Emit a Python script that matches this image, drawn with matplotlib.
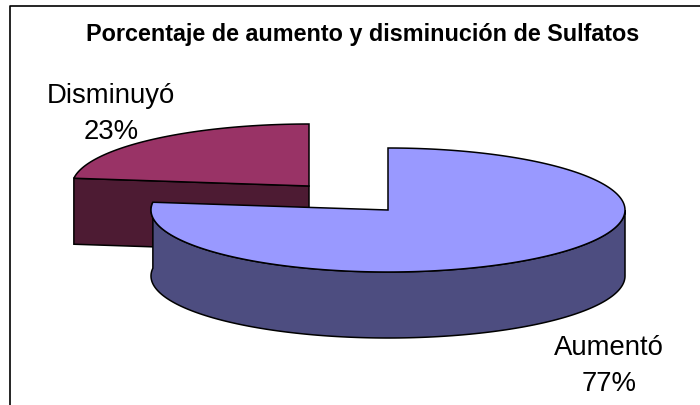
import numpy as np
import matplotlib
matplotlib.use("Agg")
import matplotlib.pyplot as plt
from matplotlib.patches import Polygon

categories = ["Aumentó", "Disminuyó"]
percentages = [77, 23]
title_text = "Porcentaje de aumento y disminución de Sulfatos"

plt.rcParams['font.family'] = ['Liberation Sans', 'DejaVu Sans']
fig = plt.figure(figsize=(7.0, 4.05), dpi=100)
ax = fig.add_axes([0, 0, 1, 1])
ax.set_xlim(0, 700)
ax.set_ylim(405, 0)
ax.axis('off')

RX, RY, DEPTH = 237, 62, 66
EDGE = dict(edgecolor='#000000', linewidth=1.1, joinstyle='miter')


def ell(cx, cy, deg, dy=0):
    t = np.radians(deg)
    return np.column_stack([cx + RX * np.sin(t), cy - RY * np.cos(t) + dy])


total = sum(percentages)
sweep_big = 360 * percentages[0] / total
sweep_small = 360 * percentages[1] / total

# Small slice, pulled out: spans counter-clockwise from 12 o'clock
c2 = (309, 186)
tip2 = ell(*c2, 360 - sweep_small)[0]
front = np.array([tip2, c2, (c2[0], c2[1] + DEPTH), (tip2[0], tip2[1] + DEPTH)])
ax.add_patch(Polygon(front, closed=True, facecolor='#4D1B33', zorder=2, **EDGE))
arc2 = ell(*c2, np.linspace(360 - sweep_small, 360, 80))
ax.add_patch(Polygon(np.vstack([arc2, [c2]]), closed=True, facecolor='#993366', zorder=3, **EDGE))

# Large slice: clockwise from 12 o'clock
c1 = (388, 210)
deg = np.linspace(90, sweep_big, 160)
side = np.vstack([ell(*c1, deg), ell(*c1, deg[::-1], DEPTH)])
ax.add_patch(Polygon(side, closed=True, facecolor='#4D4D80', zorder=4, **EDGE))
arc1 = ell(*c1, np.linspace(0, sweep_big, 240))
ax.add_patch(Polygon(np.vstack([arc1, [c1]]), closed=True, facecolor='#9999FF', zorder=5, **EDGE))

# Chart frame: only top and left edges fall inside the image
ax.plot([10, 10, 700], [405, 5.5, 5.5], color='#000000', lw=1.2, zorder=1)

ax.text(362.5, 35, title_text, fontsize=16.85, fontweight='bold', ha='center', va='center', color='black')

label_pos = [(609, 366), (111, 114)]
for name, pct, (x, y) in zip(categories, percentages, label_pos):
    ax.text(x, y, f"{name}\n{pct}%", fontsize=19.8, ha='center', va='center',
            color='black', linespacing=1.46, zorder=6)

fig.savefig("out.png", dpi=100)
